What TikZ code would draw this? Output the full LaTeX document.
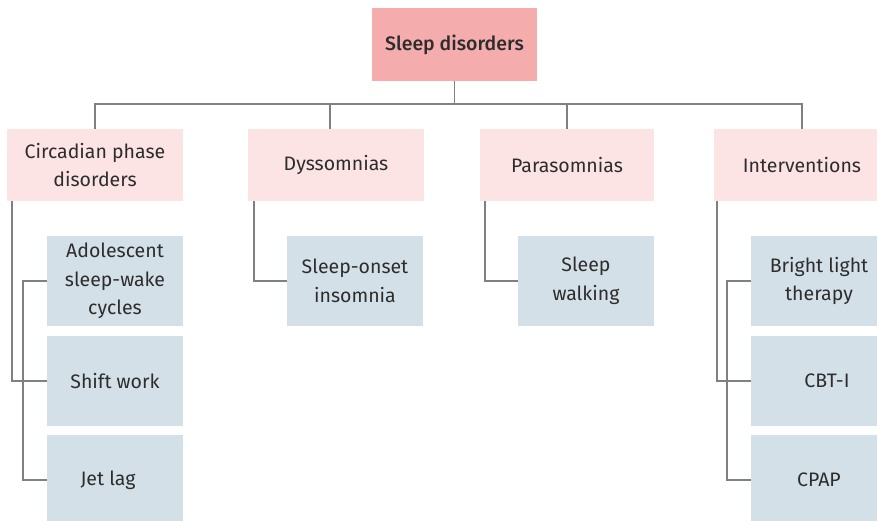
\documentclass[tikz,border=0pt]{standalone}
\usepackage{fontspec}
\setmainfont{Fira Sans}
\newfontfamily\titlefont{Fira Sans Medium}
\usetikzlibrary{calc}

\definecolor{rootfill}{RGB}{244,172,172}
\definecolor{catfill}{RGB}{252,227,228}
\definecolor{leaffill}{RGB}{212,224,232}
\definecolor{linkgray}{RGB}{128,128,128}
\definecolor{txt}{RGB}{45,45,45}

\tikzset{
  box/.style={rectangle, inner sep=0pt, align=center, text=txt,
    font=\fontsize{19.5}{28.5}\selectfont},
  rootbox/.style={box, fill=rootfill, minimum width=165pt, minimum height=73pt,
    font=\titlefont\fontsize{19.5}{28.5}\selectfont},
  catbox/.style={box, fill=catfill, minimum width=176pt, minimum height=72pt},
  leafbox/.style={box, fill=leaffill, minimum width=136pt, minimum height=90pt},
  link/.style={draw=linkgray, line width=1.5pt}
}

\begin{document}
\begin{tikzpicture}[x=1pt, y=-1pt]
  \useasboundingbox (0,0) rectangle (877,521);
  \clip (0,0) rectangle (877,521);
  \fill[white] (0,0) rectangle (877,521);

  % root
  \node[rootbox] (root) at (454.5,44.5) {Sleep disorders};

  % categories
  \node[catbox] (circ)   at (95,165)  {Circadian phase\\disorders};
  \node[catbox] (dys)    at (336,165) {Dyssomnias};
  \node[catbox, minimum width=174pt] (para) at (567,165) {Parasomnias};
  \node[catbox] (interv) at (802,165) {Interventions};

  % leaves
  \node[leafbox] (adol)   at (115,281) {Adolescent\\sleep-wake\\cycles};
  \node[leafbox] (shift)  at (115,381) {Shift work};
  \node[leafbox] (jet)    at (115,480) {\hspace*{-14pt}Jet lag};
  \node[leafbox] (onset)  at (355,281) {Sleep-onset\\insomnia};
  \node[leafbox] (walk)   at (586,281) {Sleep\\walking};
  \node[leafbox] (bright) at (819,281) {Bright light\\therapy};
  \node[leafbox] (cbt)    at (819,381) {\hspace*{16pt}CBT-I};
  \node[leafbox] (cpap)   at (819,480) {CPAP};

  % root to category bar
  \coordinate (bar) at (0,104);
  \draw[link] (root.south) -- (root.south |- bar);
  \draw[link] (circ.north) |- (bar -| interv.north) -- (interv.north);
  \coordinate (dysstem) at ($(dys.north)+(-6,0)$);
  \draw[link] (dysstem) -- (dysstem |- bar);
  \draw[link] (para.north) -- (para.north |- bar);

  % category to leaves
  \draw[link] ([xshift=5pt]circ.south west) |- (shift.west);
  \draw[link] (adol.west) -- ++(-24,0) |- (jet.west);
  \draw[link] ([xshift=6pt]dys.south west) |- (onset.west);
  \draw[link] ([xshift=5pt]para.south west) |- (walk.west);
  \draw[link] ([xshift=3pt]interv.south west) |- (cbt.west);
  \draw[link] (bright.west) -- ++(-24,0) |- (cpap.west);
\end{tikzpicture}
\end{document}
